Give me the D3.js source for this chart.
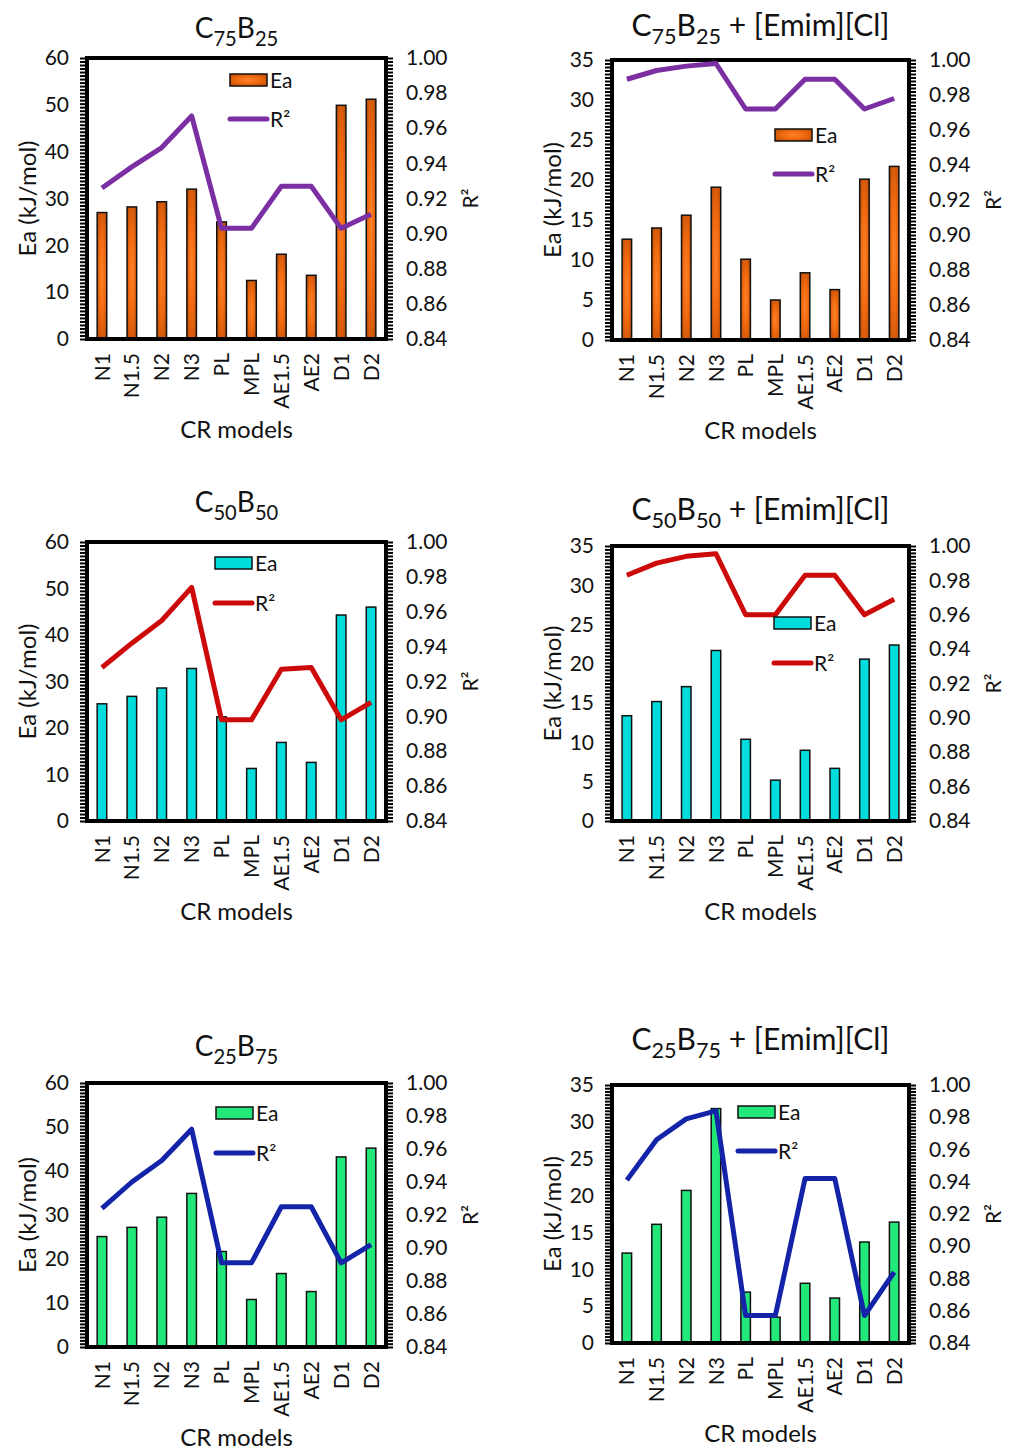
<!DOCTYPE html>
<html>
<head>
<meta charset="utf-8">
<script src="https://cdn.jsdelivr.net/npm/d3@7"></script>
<style>
  body { margin: 0; background: #fff; }
  text { font-family: Lato, "Open Sans", sans-serif; fill: #111; }
</style>
</head>
<body>
<svg id="chart"></svg>
<script>
// CR model categories (x axis)
const models = ["N1", "N1.5", "N2", "N3", "PL", "MPL", "AE1.5", "AE2", "D1", "D2"];

// Activation energy (kJ/mol) per blend
const eaC75B25 = [27.0, 28.2, 29.3, 32.0, 25.0, 12.5, 18.1, 13.6, 49.9, 51.2];
const eaC75B25Il = [12.6, 14.0, 15.6, 19.1, 10.1, 5.0, 8.4, 6.3, 20.1, 21.7];
const eaC50B50 = [25.2, 26.8, 28.6, 32.8, 22.4, 11.3, 16.9, 12.6, 44.3, 46.0];
const eaC50B50Il = [13.4, 15.2, 17.1, 21.7, 10.4, 5.2, 9.0, 6.7, 20.6, 22.4];
const eaC25B75 = [25.1, 27.2, 29.5, 34.9, 21.7, 10.8, 16.7, 12.6, 43.2, 45.2];
const eaC25B75Il = [12.2, 16.1, 20.7, 31.8, 6.9, 3.5, 8.1, 6.1, 13.7, 16.4];

// R² of each fit
const r2C75B25 = [0.926, 0.938, 0.949, 0.967, 0.903, 0.903, 0.927, 0.927, 0.903, 0.911];
const r2C75B25Il = [0.989, 0.994, 0.9965, 0.998, 0.972, 0.972, 0.989, 0.989, 0.972, 0.978];
const r2C50B50 = [0.928, 0.942, 0.955, 0.974, 0.898, 0.898, 0.927, 0.928, 0.898, 0.908];
const r2C50B50Il = [0.983, 0.990, 0.994, 0.9955, 0.960, 0.960, 0.983, 0.983, 0.960, 0.969];
const r2C25B75 = [0.924, 0.940, 0.953, 0.972, 0.891, 0.891, 0.925, 0.925, 0.891, 0.902];
const r2C25B75Il = [0.941, 0.966, 0.979, 0.984, 0.857, 0.857, 0.942, 0.942, 0.857, 0.884];

// tick labels
const eaTicks60 = [0, 10, 20, 30, 40, 50, 60];
const eaTicks35 = [0, 5, 10, 15, 20, 25, 30, 35];
const r2Ticks = [0.84, 0.86, 0.88, 0.90, 0.92, 0.94, 0.96, 0.98, 1.00];

const panels = [
  { title: [["C"], ["75", 1], ["B"], ["25", 1]], ea: eaC75B25, r2: r2C75B25, eaMax: 60, eaTicks: eaTicks60,
    bar: "url(#orangeGrad)", line: "#7b2fa3",
    box: { l: 87, r: 386, t: 58, b: 339 }, titleY: 38, titleSize: 28, leg: { x: 230, y1: 80, y2: 119 } },
  { title: [["C"], ["75", 1], ["B"], ["25", 1], [" + [Emim][Cl]"]], ea: eaC75B25Il, r2: r2C75B25Il, eaMax: 35, eaTicks: eaTicks35,
    bar: "url(#orangeGrad)", line: "#7b2fa3",
    box: { l: 612, r: 909, t: 60, b: 340 }, titleY: 36, titleSize: 30, leg: { x: 775, y1: 135, y2: 174 } },
  { title: [["C"], ["50", 1], ["B"], ["50", 1]], ea: eaC50B50, r2: r2C50B50, eaMax: 60, eaTicks: eaTicks60,
    bar: "#00dcdc", line: "#cc0a0a",
    box: { l: 87, r: 386, t: 542, b: 821 }, titleY: 512, titleSize: 28, leg: { x: 215, y1: 563, y2: 603 } },
  { title: [["C"], ["50", 1], ["B"], ["50", 1], ["  + [Emim][Cl]"]], ea: eaC50B50Il, r2: r2C50B50Il, eaMax: 35, eaTicks: eaTicks35,
    bar: "#00dcdc", line: "#cc0a0a",
    box: { l: 612, r: 909, t: 546, b: 821 }, titleY: 520, titleSize: 30, leg: { x: 774, y1: 623, y2: 663 } },
  { title: [["C"], ["25", 1], ["B"], ["75", 1]], ea: eaC25B75, r2: r2C25B75, eaMax: 60, eaTicks: eaTicks60,
    bar: "#22e87a", line: "#1424a8",
    box: { l: 87, r: 386, t: 1083, b: 1347 }, titleY: 1056, titleSize: 28, leg: { x: 216, y1: 1113, y2: 1153 } },
  { title: [["C"], ["25", 1], ["B"], ["75", 1], [" + [Emim][Cl]"]], ea: eaC25B75Il, r2: r2C25B75Il, eaMax: 35, eaTicks: eaTicks35,
    bar: "#22e87a", line: "#1424a8",
    box: { l: 612, r: 909, t: 1085, b: 1343 }, titleY: 1050, titleSize: 30, leg: { x: 738, y1: 1112, y2: 1151 } }
];

const svg = d3.select("#chart").attr("width", 1016).attr("height", 1454);

// orange bars have a shaded fill
const grad = svg.append("defs").append("radialGradient")
  .attr("id", "orangeGrad").attr("cx", "50%").attr("cy", "50%").attr("r", "70%");
grad.append("stop").attr("offset", "0%").attr("stop-color", "#ff8228");
grad.append("stop").attr("offset", "45%").attr("stop-color", "#f06a10");
grad.append("stop").attr("offset", "100%").attr("stop-color", "#b84a06");

panels.forEach(p => {
  const { l, r, t, b } = p.box;
  const g = svg.append("g");

  const x = d3.scaleBand().domain(models).range([l, r]).paddingInner(0.68).paddingOuter(0.34);
  const yL = d3.scaleLinear().domain([0, p.eaMax]).range([b, t]);
  const yR = d3.scaleLinear().domain([0.84, 1.0]).range([b, t]);

  // bars
  g.selectAll("rect.bar").data(p.ea).enter().append("rect")
    .attr("class", "bar")
    .attr("x", (d, i) => x(models[i]))
    .attr("width", x.bandwidth())
    .attr("y", d => yL(d))
    .attr("height", d => yL(0) - yL(d))
    .attr("fill", p.bar)
    .attr("stroke", "#111")
    .attr("stroke-width", 1.5);

  // minor ticks (outside, both sides)
  const minorL = d3.range(81).map(i => p.eaMax * i / 80);
  const minorR = d3.range(81).map(i => 0.84 + 0.16 * i / 80);
  g.append("g").attr("transform", `translate(${l},0)`)
    .call(d3.axisLeft(yL).tickValues(minorL).tickSize(7).tickFormat(""))
    .call(a => a.select(".domain").remove())
    .selectAll("line").attr("stroke", "#000").attr("stroke-width", 2);
  g.append("g").attr("transform", `translate(${r},0)`)
    .call(d3.axisRight(yR).tickValues(minorR).tickSize(7).tickFormat(""))
    .call(a => a.select(".domain").remove())
    .selectAll("line").attr("stroke", "#000").attr("stroke-width", 2);

  // tick labels
  g.append("g").attr("transform", `translate(${l},0)`)
    .call(d3.axisLeft(yL).tickValues(p.eaTicks).tickSize(0).tickPadding(18))
    .call(a => a.select(".domain").remove())
    .selectAll("text").style("font-size", "21px").attr("fill", "#111");
  g.append("g").attr("transform", `translate(${r},0)`)
    .call(d3.axisRight(yR).tickValues(r2Ticks).tickSize(0).tickPadding(20).tickFormat(d3.format(".2f")))
    .call(a => a.select(".domain").remove())
    .selectAll("text").style("font-size", "21px").attr("fill", "#111");

  // category labels
  g.append("g").attr("transform", `translate(0,${b})`)
    .call(d3.axisBottom(x).tickSize(0))
    .call(a => a.select(".domain").remove())
    .selectAll("text")
    .style("font-size", "21px").attr("fill", "#111")
    .attr("transform", "rotate(-90)")
    .attr("text-anchor", "end")
    .attr("x", -14).attr("y", 0).attr("dy", "0.36em");

  // frame
  g.append("rect")
    .attr("x", l).attr("y", t).attr("width", r - l).attr("height", b - t)
    .attr("fill", "none").attr("stroke", "#000").attr("stroke-width", 4);

  // R² line
  g.append("path")
    .datum(p.r2)
    .attr("fill", "none")
    .attr("stroke", p.line)
    .attr("stroke-width", 5)
    .attr("stroke-linejoin", "round")
    .attr("d", d3.line().x((d, i) => x(models[i]) + x.bandwidth() / 2).y(d => yR(d)));

  // legend
  const lg = g.append("g");
  lg.append("rect").attr("x", p.leg.x).attr("y", p.leg.y1 - 6).attr("width", 37).attr("height", 12)
    .attr("fill", p.bar).attr("stroke", "#111").attr("stroke-width", 1.5);
  lg.append("text").attr("x", p.leg.x + 40).attr("y", p.leg.y1).attr("dy", "0.36em")
    .style("font-size", "21px").text("Ea");
  lg.append("line").attr("x1", p.leg.x).attr("x2", p.leg.x + 37)
    .attr("y1", p.leg.y2).attr("y2", p.leg.y2)
    .attr("stroke", p.line).attr("stroke-width", 5).attr("stroke-linecap", "round");
  lg.append("text").attr("x", p.leg.x + 40).attr("y", p.leg.y2).attr("dy", "0.36em")
    .style("font-size", "21px").text("R²");

  // title with subscripts
  const title = g.append("text")
    .attr("x", (l + r) / 2).attr("y", p.titleY)
    .attr("text-anchor", "middle")
    .style("font-size", p.titleSize + "px");
  const shift = p.titleSize * 0.28;
  let offset = 0;
  p.title.forEach(([s, sub]) => {
    const want = sub ? shift : 0;
    title.append("tspan")
      .attr("dy", want - offset)
      .style("font-size", sub ? (p.titleSize * 0.72) + "px" : null)
      .text(s);
    offset = want;
  });

  // axis titles
  g.append("text")
    .attr("transform", `translate(${l - 60},${(t + b) / 2}) rotate(-90)`)
    .attr("text-anchor", "middle").attr("dy", "0.36em")
    .style("font-size", "24px").text("Ea (kJ/mol)");
  g.append("text")
    .attr("transform", `translate(${r + 84},${(t + b) / 2}) rotate(-90)`)
    .attr("text-anchor", "middle").attr("dy", "0.36em")
    .style("font-size", "21px").text("R²");
  g.append("text")
    .attr("x", (l + r) / 2).attr("y", b + 99)
    .attr("text-anchor", "middle")
    .style("font-size", "24px").text("CR models");
});
</script>
</body>
</html>
